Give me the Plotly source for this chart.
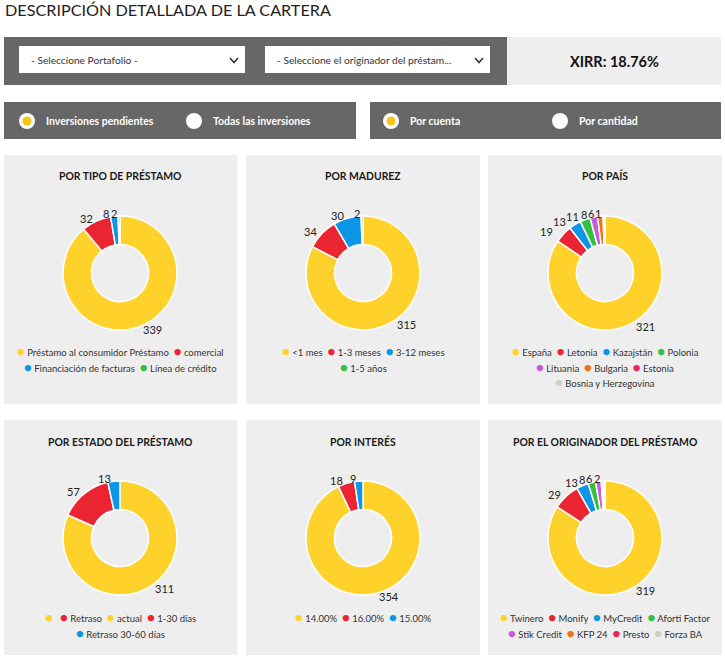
import math
import plotly.graph_objects as go

W, H = 725, 659

# ---------------- data ----------------
tipo_labels = ["Préstamo al consumidor Préstamo", "comercial", "Financiación de facturas", "Línea de crédito"]
tipo_values = [339, 32, 8, 2]

madurez_labels = ["<1 mes", "1-3 meses", "3-12 meses", "1-5 años"]
madurez_values = [315, 34, 30, 2]

pais_labels = ["España", "Letonia", "Kazajstán", "Polonia", "Lituania", "Bulgaria", "Estonia", "Bosnia y Herzegovina"]
pais_values = [321, 19, 13, 11, 8, 6, 1, 1]

estado_labels = ["actual", "Retraso 1-30 días", "Retraso 30-60 días"]
estado_values = [311, 57, 13]
estado_legend = ["", "Retraso", "actual", "1-30 días", "Retraso 30-60 días"]

interes_labels = ["14.00%", "16.00%", "15.00%"]
interes_values = [354, 18, 9]

originador_labels = ["Twinero", "Monify", "MyCredit", "Aforti Factor", "Stik Credit", "KFP 24", "Presto", "Forza BA"]
originador_values = [319, 29, 13, 8, 6, 2, 1, 1]

xirr_text = "XIRR: 18.76%"

# ---------------- style ----------------
YEL, RED, BLU, GRN = "#FFD12B", "#EA2430", "#0C96E5", "#33C040"
PUR, ORA, CRI, GRY = "#C65CD8", "#F5700F", "#E8235A", "#D2D0C5"
palette = [YEL, RED, BLU, GRN, PUR, ORA, CRI, GRY]
estado_colors = [YEL, RED, BLU]
estado_legend_colors = [YEL, RED, YEL, RED, BLU]

FONT = "Lato"
DARK_BAR = "#676767"
PANEL = "#EEEEEE"


def X(p):
    return p / W


def Y(p):
    return 1 - p / H


fig = go.Figure()
shapes = []
ann = []


def rect(x0, y0, x1, y1, color):
    shapes.append(dict(type="rect", xref="paper", yref="paper", x0=X(x0), x1=X(x1),
                       y0=Y(y1), y1=Y(y0), fillcolor=color, line=dict(width=0), layer="below"))


def text(x, y, s, size, color="#222", bold=False, xanchor="left"):
    if bold:
        s = "<b>" + s + "</b>"
    ann.append(dict(xref="paper", yref="paper", x=X(x), y=Y(y), text=s, showarrow=False,
                    xanchor=xanchor, yanchor="middle", font=dict(family=FONT, size=size, color=color),
                    borderpad=0))


def circle(cx, cy, r, color):
    shapes.append(dict(type="circle", xref="paper", yref="paper", x0=X(cx - r), x1=X(cx + r),
                       y0=Y(cy + r), y1=Y(cy - r), fillcolor=color, line=dict(width=0)))


# title
text(4, 10, "DESCRIPCIÓN DETALLADA DE LA CARTERA", 16.2, "#222")

# filter bar
rect(4, 37, 507, 85, DARK_BAR)
rect(507, 37, 721, 85, PANEL)
text(614, 61, xirr_text, 14.5, "#111", bold=True, xanchor="center")
for (x0, x1, label) in [(19, 245, "- Seleccione Portafolio -"),
                        (265, 490, "- Seleccione el originador del préstam...")]:
    rect(x0, 46, x1, 73, "white")
    text(x0 + 11, 60, label, 10.2, "#333")
    cx = x1 - 11
    shapes.append(dict(type="path", xref="paper", yref="paper",
                       path=f"M {X(cx-4)} {Y(58)} L {X(cx)} {Y(62.5)} L {X(cx+4)} {Y(58)}",
                       line=dict(color="#333", width=1.6)))

# radio bars
rect(4, 102, 356, 139, DARK_BAR)
rect(370, 102, 721, 139, DARK_BAR)
radios = [(27, "Inversiones pendientes", True), (194, "Todas las inversiones", False),
          (391, "Por cuenta", True), (560, "Por cantidad", False)]
for cx, label, sel in radios:
    circle(cx, 121, 8, "white")
    if sel:
        circle(cx, 121, 4.5, "#F5C518")
    text(cx + 18, 120.5, label, 10.5, "white", bold=True)

# panels
panel_x = [(4, 237), (246, 480), (488, 722)]
panel_y = [(155, 404), (420, 655)]
for (y0, y1) in panel_y:
    for (x0, x1) in panel_x:
        rect(x0, y0, x1, y1, PANEL)

charts = [
    ("POR TIPO DE PRÉSTAMO", tipo_labels, tipo_values, palette, tipo_labels, palette, [[0, 1], [2, 3]]),
    ("POR MADUREZ", madurez_labels, madurez_values, palette, madurez_labels, palette, [[0, 1, 2], [3]]),
    ("POR PAÍS", pais_labels, pais_values, palette, pais_labels, palette, [[0, 1, 2, 3], [4, 5, 6], [7]]),
    ("POR ESTADO DEL PRÉSTAMO", estado_labels, estado_values, estado_colors, estado_legend,
     estado_legend_colors, [[0, 1, 2, 3], [4]]),
    ("POR INTERÉS", interes_labels, interes_values, palette, interes_labels, palette, [[0, 1, 2]]),
    ("POR EL ORIGINADOR DEL PRÉSTAMO", originador_labels, originador_values, palette, originador_labels,
     palette, [[0, 1, 2, 3], [4, 5, 6, 7]]),
]

centers_x = [120, 363, 605]
centers_y = [273, 538]
title_y = [176, 441]
legend_y0 = [351, 617]
R = 57
LABEL_R = 60
DIGIT_W = 6.0
LABEL_GAP = 1.2

for i, (title, labels, values, colors, leg_labels, leg_colors, rows) in enumerate(charts):
    col, row = i % 3, i // 3
    cx, cy = centers_x[col], centers_y[row]
    fig.add_trace(go.Pie(
        labels=labels, values=values, hole=0.5, sort=False, direction="clockwise", rotation=0,
        marker=dict(colors=colors[:len(values)], line=dict(color="white", width=1.5)),
        textinfo="none", showlegend=False, hoverinfo="label+value",
        domain=dict(x=[X(cx - R), X(cx + R)], y=[Y(cy + R), Y(cy - R)]),
    ))
    # value labels outside each slice, at the slice's mid-angle
    total = float(sum(values))
    cum = 0.0
    last = None
    placed = []
    for v in values:
        mid = (cum + v / 2.0) / total * 2 * math.pi
        cum += v
        lx = cx + LABEL_R * math.sin(mid)
        ly = cy - LABEL_R * math.cos(mid)
        if last is not None and math.hypot(lx - last[0], ly - last[1]) < 2.5:
            continue
        last = (lx, ly)
        right = math.sin(mid) > 0
        placed.append([lx + (1.5 if right else -1.5), ly, str(v), right])
    # resolve horizontal collisions of left-side (right-anchored) labels near the top
    left = [p for p in placed if not p[3]]
    for k in range(len(left) - 2, -1, -1):
        a, b = left[k], left[k + 1]
        if abs(a[1] - b[1]) < 11:
            limit = b[0] - DIGIT_W * len(b[2]) - LABEL_GAP
            if a[0] > limit:
                a[0] = limit
    for lx, ly, s, right in placed:
        text(lx, ly, s, 11, "#222", xanchor="left" if right else "right")
    text(cx, title_y[row], title, 10.4, "#1a1a1a", bold=True, xanchor="center")
    for k, idxs in enumerate(rows):
        parts = []
        for j in idxs:
            parts.append(f'<span style="color:{leg_colors[j]};font-size:13px">●</span> {leg_labels[j]}')
        text(cx, legend_y0[row] + 15.5 * k, "  ".join(parts), 9.5, "#333", xanchor="center")

fig.update_layout(
    width=W, height=H, margin=dict(l=0, r=0, t=0, b=0),
    paper_bgcolor="white", plot_bgcolor="white",
    shapes=shapes, annotations=ann, showlegend=False,
)

fig.write_html("out.html", config={"displayModeBar": False},
               post_script="document.body.style.margin='0';document.body.style.overflow='hidden';")
